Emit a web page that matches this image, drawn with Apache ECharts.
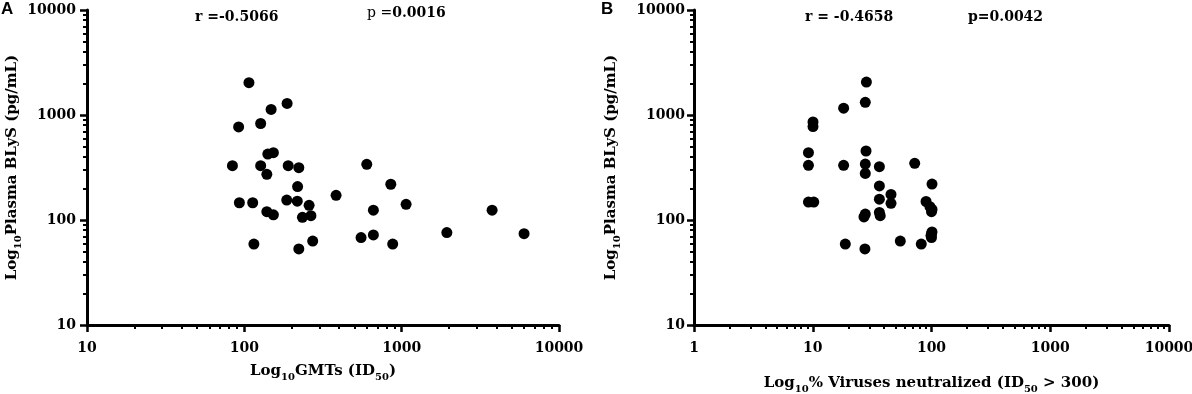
<!DOCTYPE html>
<html>
<head>
<meta charset="utf-8">
<script src="https://cdn.jsdelivr.net/npm/echarts@6/dist/echarts.min.js"></script>
<style>html,body{margin:0;padding:0;background:#fff}#c{width:1192px;height:394px}</style>
</head>
<body>
<div id="c"></div>
<script>
// Panel A: GMTs (ID50) vs plasma BLyS (pg/mL)
const gmtA  = [107,187,148,92,127,141,153,84,127,139,190,222,218,383,600,853,93,113,186,217,258,139,153,234,265,115,222,272,552,661,661,877,1067,1937,3757,5997];
const blysA = [2030,1290,1130,770,830,425,438,329,329,272,329,315,208,172,339,219,146,146,155,151,138,120,112,106,110,59,53,63,68,72,124,59,141,76,124,74];
// Panel B: % viruses neutralized (ID50 > 300) vs plasma BLyS (pg/mL)
const virusB = [28.3,27.7,18.2,10.05,10.05,9.2,9.2,18.2,28.1,27.7,27.7,36.4,72.2,36.4,101,9.2,10.2,36.4,45.6,45.6,36.4,37,27.7,27,90,97,101,100,101,100,99,100,18.8,27.5,54.6,82];
const blysB  = [2060,1320,1160,860,775,438,332,332,454,341,278,322,347,211,220,148,148,158,175,144,118,110,114,107,150,134,126,120,77,74,71,68,59,53,63,59];
// Axis ticks
const yTicks = [10,100,1000,10000];
const xTicksA = [10,100,1000,10000];
const xTicksB = [1,10,100,1000,10000];
const mantissas = [2,3,4,5,6,7,8,9];
const statsA = {r:'r =-0.5066', p:'0.0016'};
const statsB = {r:'r = -0.4658', p:'p=0.0042'};

function minorTicks(majors){
  const out=[];
  for(let i=0;i<majors.length-1;i++) mantissas.forEach(m=>out.push(majors[i]*m));
  return out;
}
const FONT = 'DejaVu Serif';
const lbl = {fontFamily:FONT,fontWeight:'bold',fontSize:14,color:'#000'};
const rich = {
  t:{fontFamily:FONT,fontWeight:'bold',fontSize:15,color:'#000',verticalAlign:'top',lineHeight:15},
  s:{fontFamily:FONT,fontWeight:'bold',fontSize:10,color:'#000',verticalAlign:'top',lineHeight:10,padding:[8,0,0,0]}
};
const axLine = {show:true,lineStyle:{color:'#000',width:3}};

function majorX(grid,ticks,name,gap){
  return {type:'log',logBase:10,gridIndex:grid,position:'bottom',offset:0,min:ticks[0],max:ticks[ticks.length-1],
    axisLine:axLine,splitLine:{show:false},
    axisTick:{show:true,length:7,inside:false,lineStyle:{color:'#000',width:2.5},customValues:ticks},
    axisLabel:{...lbl,margin:16,customValues:ticks,formatter:v=>String(Math.round(v))},
    name:name,nameLocation:'middle',nameGap:gap,nameTextStyle:{rich:rich}};
}
function minorX(grid,ticks){
  return {type:'log',logBase:10,gridIndex:grid,position:'bottom',offset:0,min:ticks[0],max:ticks[ticks.length-1],
    axisLine:{show:false},splitLine:{show:false},axisLabel:{show:false},
    axisTick:{show:true,length:4,lineStyle:{color:'#000',width:2},customValues:minorTicks(ticks)}};
}
function majorY(grid,gap,margin){
  return {type:'log',logBase:10,gridIndex:grid,position:'left',offset:0,min:10,max:10000,
    axisLine:axLine,splitLine:{show:false},
    axisTick:{show:true,length:7,lineStyle:{color:'#000',width:2.5},customValues:yTicks},
    axisLabel:{...lbl,margin:margin,customValues:yTicks,formatter:v=>String(Math.round(v))},
    name:'{t|Log}{s|10}{t|Plasma BLyS (pg/mL)}',nameLocation:'middle',nameGap:gap,nameTextStyle:{rich:rich}};
}
function minorY(grid){
  return {type:'log',logBase:10,gridIndex:grid,position:'left',offset:0,min:10,max:10000,
    axisLine:{show:false},splitLine:{show:false},axisLabel:{show:false},
    axisTick:{show:true,length:4,lineStyle:{color:'#000',width:2},customValues:minorTicks(yTicks)}};
}

const chart = echarts.init(document.getElementById('c'),null,{renderer:'canvas'});
chart.setOption({
  animation:false,
  backgroundColor:'#fff',
  grid:[
    {left:87,right:633,top:10,bottom:69,containLabel:false,outerBoundsMode:'none'},
    {left:694,right:23,top:10,bottom:69,containLabel:false,outerBoundsMode:'none'}
  ],
  xAxis:[
    majorX(0,xTicksA,'{t|Log}{s|10}{t|GMTs (ID}{s|50}{t|)}',39),
    minorX(0,xTicksA),
    majorX(1,xTicksB,'{t|Log}{s|10}{t|% Viruses neutralized (ID}{s|50}{t| > 300)}',51),
    minorX(1,xTicksB)
  ],
  yAxis:[majorY(0,67,11),minorY(0),majorY(1,75,9),minorY(1)],
  series:[
    {type:'scatter',xAxisIndex:0,yAxisIndex:0,symbolSize:11,itemStyle:{color:'#000',opacity:1},
     data:gmtA.map((x,i)=>[x,blysA[i]])},
    {type:'scatter',xAxisIndex:2,yAxisIndex:2,symbolSize:11,itemStyle:{color:'#000',opacity:1},
     data:virusB.map((x,i)=>[x,blysB[i]])}
  ],
  graphic:[
    {type:'text',left:1,top:1,style:{text:'A',font:'bold 17px "Liberation Sans"',fill:'#000'}},
    {type:'text',left:601,top:1,style:{text:'B',font:'bold 17px "Liberation Sans"',fill:'#000'}},
    {type:'text',left:195,top:10,style:{text:statsA.r,font:'bold 14px "DejaVu Serif"',fill:'#000'}},
    {type:'text',left:367,top:6,style:{text:'{n|p =}{b|'+statsA.p+'}',rich:{
      n:{fontFamily:FONT,fontSize:14,fontWeight:'normal',color:'#333',verticalAlign:'bottom'},
      b:{fontFamily:FONT,fontSize:14,fontWeight:'bold',color:'#000',verticalAlign:'bottom'}}}},
    {type:'text',left:805,top:10,style:{text:statsB.r,font:'bold 14px "DejaVu Serif"',fill:'#000'}},
    {type:'text',left:968,top:10,style:{text:statsB.p,font:'bold 14px "DejaVu Serif"',fill:'#000'}}
  ]
});
</script>
</body>
</html>
